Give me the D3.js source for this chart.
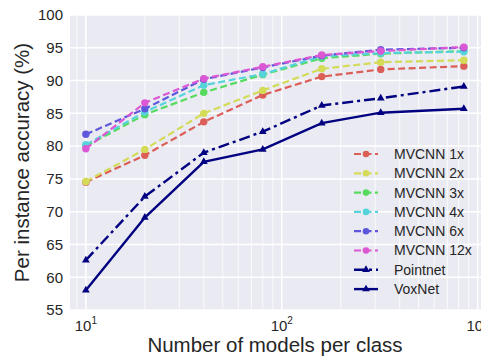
<!DOCTYPE html>
<html>
<head>
<meta charset="utf-8">
<script src="https://cdn.jsdelivr.net/npm/d3@7"></script>
<style>
  body { margin: 0; background: #fff; }
  text { font-family: "Liberation Sans", Arial, sans-serif; fill: #262626; }
</style>
</head>
<body>
<div id="chart"></div>
<script>
// models per class used for training
const modelsPerClass = [10, 20, 40, 80, 160, 320, 850];

const seriesNames = ["MVCNN 1x", "MVCNN 2x", "MVCNN 3x", "MVCNN 4x", "MVCNN 6x", "MVCNN 12x", "Pointnet", "VoxNet"];

// accuracy (%) per series
const mvcnn1x  = [74.5, 78.6, 83.7, 87.8, 90.6, 91.7, 92.2];
const mvcnn2x  = [74.6, 79.5, 85.0, 88.5, 91.8, 92.8, 93.1];
const mvcnn3x  = [80.0, 84.8, 88.2, 90.9, 93.4, 94.1, 94.5];
const mvcnn4x  = [80.2, 85.2, 89.3, 91.0, 93.7, 94.2, 94.4];
const mvcnn6x  = [81.8, 85.7, 90.2, 92.0, 93.8, 94.7, 95.0];
const mvcnn12x = [79.6, 86.6, 90.3, 92.1, 93.9, 94.5, 95.1];
const pointnet = [62.6, 72.3, 79.0, 82.2, 86.2, 87.3, 89.1];
const voxnet   = [58.0, 69.1, 77.6, 79.5, 83.5, 85.1, 85.7];

const yTicks = [55, 60, 65, 70, 75, 80, 85, 90, 95, 100];
const xTicks = [10, 100, 1000];

const allValues = [mvcnn1x, mvcnn2x, mvcnn3x, mvcnn4x, mvcnn6x, mvcnn12x, pointnet, voxnet];
const colors = ["#db5f57", "#d3db57", "#57db5f", "#57d3db", "#5f57db", "#db57d3", "#000080", "#000080"];
const dashes = ["7,3.5", "7,3.5", "7,3.5", "7,3.5", "7,3.5", "7,3.5", "11,4,3,4", null];

let width = 481, height = 357;
let margin = {top: 15, left: 70, right: 0, bottom: 47};
let innerWidth = width - margin.left - margin.right;
let innerHeight = height - margin.top - margin.bottom;

let svg = d3.select("#chart").append("svg")
  .attr("width", width)
  .attr("height", height);

let g = svg.append("g")
  .attr("transform", "translate(" + margin.left + "," + margin.top + ")");

let x = d3.scaleLog().domain([8.3, 1040]).range([0, innerWidth]);
let y = d3.scaleLinear().domain([55, 100]).range([innerHeight, 0]);

// plot background
g.append("rect")
  .attr("width", innerWidth)
  .attr("height", innerHeight)
  .attr("fill", "#eaeaf2");

// minor vertical grid
let minor = [];
[1, 10, 100].forEach(k => { for (let m = 2; m <= 9; m++) minor.push(m * k); });
minor = minor.filter(v => v > x.domain()[0] && v < x.domain()[1]);
g.append("g").selectAll("line")
  .data(minor)
  .enter().append("line")
  .attr("x1", d => x(d)).attr("x2", d => x(d))
  .attr("y1", 0).attr("y2", innerHeight)
  .attr("stroke", "#fff").attr("stroke-width", 0.8);

// major grid
g.append("g").selectAll("line")
  .data(xTicks)
  .enter().append("line")
  .attr("x1", d => x(d)).attr("x2", d => x(d))
  .attr("y1", 0).attr("y2", innerHeight)
  .attr("stroke", "#fff").attr("stroke-width", 1.5);
g.append("g").selectAll("line")
  .data(yTicks)
  .enter().append("line")
  .attr("x1", 0).attr("x2", innerWidth)
  .attr("y1", d => y(d)).attr("y2", d => y(d))
  .attr("stroke", "#fff").attr("stroke-width", 1.5);

// y axis (labels only, seaborn style)
let yAxis = d3.axisLeft(y).tickValues(yTicks).tickSize(0).tickPadding(7);
let yg = g.append("g").call(yAxis);
yg.select(".domain").remove();
yg.selectAll("text").style("font-size", "15px").attr("fill", "#3a3a3a");

// x tick labels as powers of ten
g.append("g").selectAll("text")
  .data(xTicks)
  .enter().append("text")
  .attr("x", d => x(d))
  .attr("y", innerHeight + 21)
  .attr("text-anchor", "middle")
  .style("font-size", "15px")
  .attr("fill", "#3a3a3a")
  .each(function(d) {
    let t = d3.select(this);
    t.append("tspan").text("10");
    t.append("tspan").attr("dy", -7).style("font-size", "10px").text(Math.round(Math.log10(d)));
  });

// axis titles
svg.append("text")
  .attr("x", 275)
  .attr("y", 352)
  .attr("text-anchor", "middle")
  .style("font-size", "20.5px")
  .text("Number of models per class");

svg.append("text")
  .attr("transform", "translate(22," + (margin.top + innerHeight / 2) + ") rotate(-90)")
  .attr("text-anchor", "middle")
  .attr("dy", "0.35em")
  .style("font-size", "20.5px")
  .text("Per instance accuracy (%)");

// lines
let line = d3.line()
  .x((d, i) => x(modelsPerClass[i]))
  .y(d => y(d));

let tri = d3.symbol().type(d3.symbolTriangle).size(26);

let series = g.append("g").selectAll(".series")
  .data(allValues)
  .enter().append("g")
  .attr("class", "series");

series.append("path")
  .attr("d", d => line(d))
  .attr("fill", "none")
  .attr("stroke", (d, i) => colors[i])
  .attr("stroke-width", (d, i) => i < 6 ? 2.2 : 2.4)
  .attr("stroke-dasharray", (d, i) => dashes[i]);

series.each(function(vals, si) {
  let s = d3.select(this);
  if (si < 6) {
    s.selectAll("circle").data(vals).enter().append("circle")
      .attr("cx", (d, i) => x(modelsPerClass[i]))
      .attr("cy", d => y(d))
      .attr("r", 3.7)
      .attr("fill", colors[si]);
  } else {
    s.selectAll("path.m").data(vals).enter().append("path")
      .attr("class", "m")
      .attr("d", tri)
      .attr("transform", (d, i) => "translate(" + x(modelsPerClass[i]) + "," + y(d) + ")")
      .attr("fill", colors[si]);
  }
});

// legend
let legend = svg.append("g").attr("transform", "translate(354,154)");
let items = legend.selectAll(".item")
  .data(seriesNames)
  .enter().append("g")
  .attr("transform", (d, i) => "translate(0," + (i * 19.3) + ")");

items.append("line")
  .attr("x1", 0).attr("x2", 24)
  .attr("stroke", (d, i) => colors[i])
  .attr("stroke-width", (d, i) => i < 6 ? 2.2 : 2.4)
  .attr("stroke-dasharray", (d, i) => dashes[i]);

items.each(function(d, i) {
  let it = d3.select(this);
  if (i < 6) it.append("circle").attr("cx", 12).attr("r", 3.3).attr("fill", colors[i]);
  else it.append("path").attr("d", tri).attr("transform", "translate(12,0)").attr("fill", colors[i]);
});

items.append("text")
  .attr("x", 40)
  .attr("dy", "0.35em")
  .style("font-size", "14px")
  .text(d => d);
</script>
</body>
</html>
